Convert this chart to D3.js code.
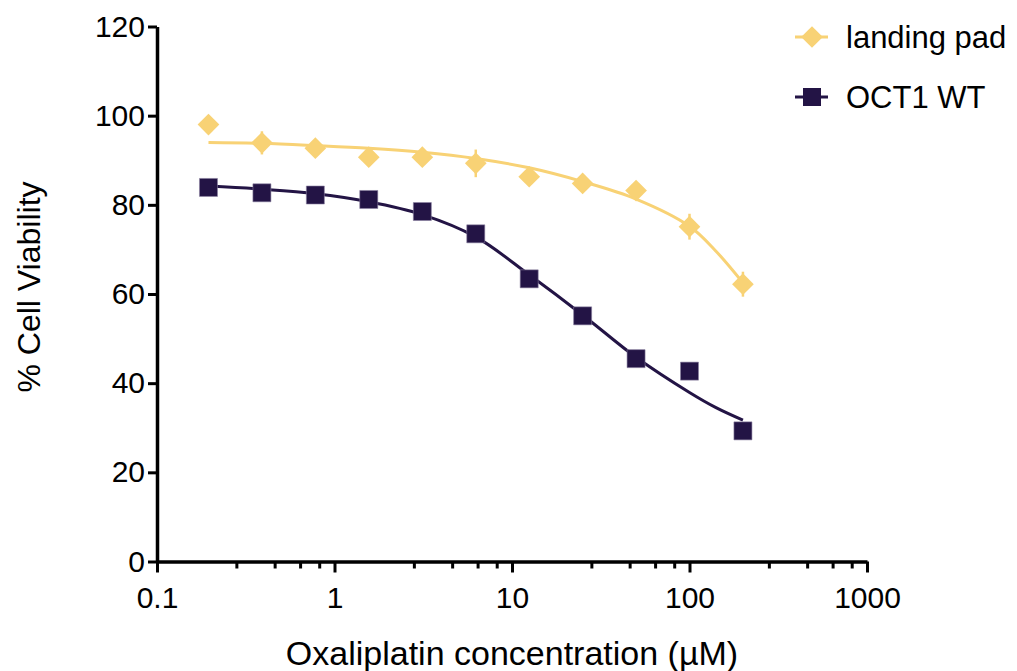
<!DOCTYPE html>
<html>
<head>
<meta charset="utf-8">
<script src="https://cdn.jsdelivr.net/npm/d3@7"></script>
<style>
  body { margin: 0; background: #fff; }
  svg text { font-family: Arial, "Liberation Sans", sans-serif; fill: #000; }
</style>
</head>
<body>
<svg id="chart" width="1017" height="671"></svg>
<script>
// concentrations (uM), two-fold dilution series
var conc = [0.195, 0.39, 0.78, 1.56, 3.125, 6.25, 12.5, 25, 50, 100, 200];

var landingPad = [98.0, 93.9, 92.7, 90.7, 90.7, 89.3, 86.3, 84.8, 83.2, 75.1, 62.2];
var landingPadErr = [1.0, 2.6, 1.2, 1.0, 1.5, 3.1, 1.5, 1.8, 1.0, 2.9, 2.8];

var oct1WT = [83.9, 82.7, 82.2, 81.2, 78.5, 73.5, 63.4, 55.1, 45.5, 42.7, 29.3];
var oct1WTErr = [0.8, 0.8, 0.8, 0.8, 0.8, 0.8, 0.8, 0.8, 0.8, 0.8, 0.8];

// fitted curves
var fitConc = [0.195, 0.39, 0.78, 1.56, 3.125, 6.25, 12.5, 25, 50, 100, 141, 200];
var landingPadFit = [94.0, 93.8, 93.3, 92.7, 91.8, 90.4, 88.3, 85.2, 81.3, 75.2, 69.6, 62.5];
var oct1WTFit = [84.2, 83.5, 82.5, 80.7, 77.8, 72.8, 64.3, 55.3, 45.8, 37.9, 34.5, 31.7];

var xMajor = [0.1, 1, 10, 100, 1000];
var xMinor = [0.28, 0.46, 0.64, 0.82, 2.8, 4.6, 6.4, 8.2, 28, 46, 64, 82, 280, 460, 640, 820];
var yTicks = [0, 20, 40, 60, 80, 100, 120];

var seriesNames = ['landing pad', 'OCT1 WT'];
var colors = { 'landing pad': '#f8d275', 'OCT1 WT': '#231445' };

var svg = d3.select('#chart');

var x = d3.scaleLog().domain([0.1, 1000]).range([157, 867]);
var y = d3.scaleLinear().domain([0, 120]).range([561.5, 26.5]);

// axes
var xAxis = svg.append('g')
  .attr('transform', 'translate(0,' + y(0) + ')')
  .call(d3.axisBottom(x).tickValues(xMajor).tickSize(11).tickSizeOuter(0)
    .tickPadding(14).tickFormat(function (d) { return String(d); }));

svg.append('g')
  .attr('transform', 'translate(0,' + y(0) + ')')
  .call(d3.axisBottom(x).tickValues(xMinor).tickSize(7).tickFormat(''))
  .call(function (g) { g.select('.domain').remove(); });

var yAxis = svg.append('g')
  .attr('transform', 'translate(' + x(0.1) + ',0)')
  .call(d3.axisLeft(y).tickValues(yTicks).tickSize(9).tickSizeOuter(0).tickPadding(3));

svg.selectAll('.domain').attr('stroke', '#000').attr('stroke-width', 3.5);
svg.selectAll('.tick line').attr('stroke', '#000').attr('stroke-width', 3);
xAxis.selectAll('text').style('font-size', '30px').attr('fill', '#000');
yAxis.selectAll('text').style('font-size', '30px').attr('fill', '#000');

// axis titles
svg.append('text')
  .attr('x', 512).attr('y', 665)
  .attr('text-anchor', 'middle')
  .style('font-size', '34px')
  .text('Oxaliplatin concentration (\u00b5M)');

svg.append('text')
  .attr('transform', 'translate(40,287) rotate(-90)')
  .attr('text-anchor', 'middle')
  .style('font-size', '32px')
  .text('% Cell Viability');

// fitted curves
var line = d3.line()
  .x(function (d) { return x(d.c); })
  .y(function (d) { return y(d.v); })
  .curve(d3.curveCatmullRom.alpha(0.5));

function pairs(cs, vs) {
  return cs.map(function (c, i) { return { c: c, v: vs[i] }; });
}

svg.append('path')
  .datum(pairs(fitConc, landingPadFit))
  .attr('d', line)
  .attr('fill', 'none')
  .attr('stroke', colors['landing pad'])
  .attr('stroke-width', 3);

svg.append('path')
  .datum(pairs(fitConc, oct1WTFit))
  .attr('d', line)
  .attr('fill', 'none')
  .attr('stroke', colors['OCT1 WT'])
  .attr('stroke-width', 3);

// error bars
function errorBars(vals, errs, color) {
  svg.append('g').selectAll('line')
    .data(conc.map(function (c, i) { return { c: c, v: vals[i], e: errs[i] }; }))
    .enter().append('line')
    .attr('x1', function (d) { return x(d.c); })
    .attr('x2', function (d) { return x(d.c); })
    .attr('y1', function (d) { return y(d.v + d.e); })
    .attr('y2', function (d) { return y(d.v - d.e); })
    .attr('stroke', color)
    .attr('stroke-width', 2.5);
}
errorBars(landingPad, landingPadErr, colors['landing pad']);
errorBars(oct1WT, oct1WTErr, colors['OCT1 WT']);

// markers
var diamond = d3.symbol().type(d3.symbolDiamond2).size(300);
var square = d3.symbol().type(d3.symbolSquare).size(324);

svg.append('g').selectAll('path')
  .data(pairs(conc, landingPad))
  .enter().append('path')
  .attr('d', diamond)
  .attr('transform', function (d) { return 'translate(' + x(d.c) + ',' + y(d.v) + ')'; })
  .attr('fill', colors['landing pad']);

svg.append('g').selectAll('path')
  .data(pairs(conc, oct1WT))
  .enter().append('path')
  .attr('d', square)
  .attr('transform', function (d) { return 'translate(' + x(d.c) + ',' + y(d.v) + ')'; })
  .attr('fill', colors['OCT1 WT'])
  .attr('stroke', '#8a7fa0')
  .attr('stroke-width', 0.6);

// legend
var legend = svg.append('g').selectAll('g')
  .data(seriesNames)
  .enter().append('g')
  .attr('transform', function (d, i) { return 'translate(812,' + (37 + i * 60) + ')'; });

legend.append('line')
  .attr('x1', -17).attr('x2', 16)
  .attr('stroke', function (d) { return colors[d]; })
  .attr('stroke-width', 3);

legend.append('path')
  .attr('d', function (d, i) { return i === 0 ? diamond() : square(); })
  .attr('fill', function (d) { return colors[d]; });

legend.append('text')
  .attr('x', 34).attr('y', 11)
  .style('font-size', '31px')
  .text(function (d) { return d; });
</script>
</body>
</html>
